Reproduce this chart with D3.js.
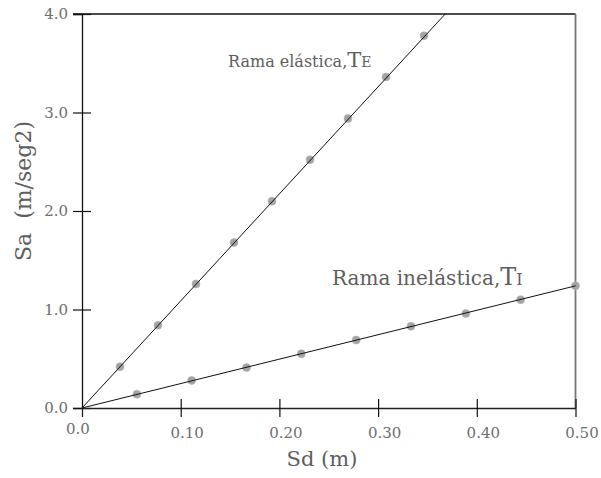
<!DOCTYPE html>
<html>
<head>
<meta charset="utf-8">
<script src="https://cdn.jsdelivr.net/npm/d3@7"></script>
<style>
  html, body { margin: 0; padding: 0; background: #fff; }
  svg { display: block; }
</style>
</head>
<body>
<svg id="chart" width="601" height="478"></svg>
<script>
// ---- data ----
const elasticSd = [0.0385, 0.077, 0.1155, 0.154, 0.1925, 0.231, 0.2695, 0.308, 0.3465];
const elasticSa = [0.42, 0.84, 1.26, 1.68, 2.10, 2.52, 2.94, 3.36, 3.78];
const inelasticSd = [0.0556, 0.1111, 0.1667, 0.2222, 0.2778, 0.3333, 0.3889, 0.4444, 0.5];
const inelasticSa = [0.14, 0.28, 0.41, 0.55, 0.69, 0.83, 0.96, 1.10, 1.24];
const elasticLineSd = [0, 0.368];
const elasticLineSa = [0, 4.0];
const inelasticLineSd = [0, 0.5];
const inelasticLineSa = [0, 1.24];
const xTicks = [0.1, 0.2, 0.3, 0.4, 0.5];
const xTickLabels = ["0.10", "0.20", "0.30", "0.40", "0.50"];
const yTicks = [0, 1, 2, 3, 4];
const yTickLabels = ["0.0", "1.0", "2.0", "3.0", "4.0"];

(function () {
const FONT = "'DejaVu Serif', 'Liberation Serif', serif";
const svg = d3.select("#chart").attr("font-family", FONT);
const mL = 82, mR = 575.5, mT = 14, mB = 408;
const x = d3.scaleLinear().domain([0, 0.5]).range([mL, mR]);
const y = d3.scaleLinear().domain([0, 4]).range([mB, mT]);

// frame: top & right
svg.append("line").attr("x1", mL - 9).attr("x2", mR).attr("y1", y(4)).attr("y2", y(4))
  .attr("stroke", "#111").attr("stroke-width", 1.3);
svg.append("line").attr("x1", mR).attr("x2", mR).attr("y1", mT).attr("y2", mB)
  .attr("stroke", "#777").attr("stroke-width", 1.8);

// y axis
const yAxis = svg.append("g").attr("transform", `translate(${mL},0)`)
  .call(d3.axisLeft(y).tickValues(yTicks).tickSize(9).tickFormat((d, i) => yTickLabels[i]));
yAxis.attr("font-family", FONT).attr("font-size", null);
yAxis.select(".domain").attr("stroke", "#111").attr("stroke-width", 1.3);
yAxis.selectAll(".tick line").attr("x1", 9).attr("x2", -9).attr("stroke", "#111").attr("stroke-width", 1.2);
yAxis.selectAll(".tick text").attr("x", -14).attr("font-size", 15).attr("fill", "#6e6e6e")
  .attr("font-family", FONT);

// x axis
const xAxis = svg.append("g").attr("transform", `translate(0,${mB})`)
  .call(d3.axisBottom(x).tickValues(xTicks).tickSize(9).tickFormat((d, i) => xTickLabels[i]));
xAxis.attr("font-family", FONT).attr("font-size", null);
xAxis.select(".domain").attr("stroke", "#222").attr("stroke-width", 1.3);
xAxis.selectAll(".tick line").attr("y1", -9).attr("y2", d => d < 0.5 ? 9 : 0)
  .attr("stroke", "#111").attr("stroke-width", 1.2);
xAxis.selectAll(".tick text").attr("y", 19).attr("dx", 6).attr("font-size", 15).attr("fill", "#6e6e6e")
  .attr("font-family", FONT);
// origin label for x
svg.append("text").attr("x", x(0) - 4).attr("y", mB + 26).attr("text-anchor", "middle")
  .attr("font-size", 15).attr("fill", "#6e6e6e").attr("font-family", FONT).text("0.0");

// points
const pts = svg.append("g");
pts.selectAll("circle.e").data(elasticSd).join("circle").attr("class", "e")
  .attr("cx", d => x(d)).attr("cy", (d, i) => y(elasticSa[i])).attr("r", 4)
  .attr("fill", "#a3a3a3").attr("stroke", "#b5b5b5").attr("stroke-width", 0.6);
pts.selectAll("circle.i").data(inelasticSd).join("circle").attr("class", "i")
  .attr("cx", d => x(d)).attr("cy", (d, i) => y(inelasticSa[i])).attr("r", 4)
  .attr("fill", "#a3a3a3").attr("stroke", "#b5b5b5").attr("stroke-width", 0.6);

// lines
const line = d3.line().x(d => x(d[0])).y(d => y(d[1]));
svg.append("path").datum(elasticLineSd.map((d, i) => [d, elasticLineSa[i]]))
  .attr("d", line).attr("fill", "none").attr("stroke", "#111").attr("stroke-width", 1);
svg.append("path").datum(inelasticLineSd.map((d, i) => [d, inelasticLineSa[i]]))
  .attr("d", line).attr("fill", "none").attr("stroke", "#111").attr("stroke-width", 1);

// annotations
const t1 = svg.append("text").attr("x", 228).attr("y", 67).attr("font-size", 16)
  .attr("fill", "#5e5e5e").attr("font-family", FONT);
t1.append("tspan").text("Rama elástica,");
t1.append("tspan").attr("font-size", 21).text("T");
t1.append("tspan").attr("font-size", 14).text("E");

const t2 = svg.append("text").attr("x", 332).attr("y", 285).attr("font-size", 20)
  .attr("fill", "#5e5e5e").attr("font-family", FONT);
t2.append("tspan").text("Rama inelástica,");
t2.append("tspan").attr("font-size", 24).text("T");
t2.append("tspan").attr("font-size", 16).text("I");

// axis titles
svg.append("text").attr("x", 322).attr("y", 466).attr("text-anchor", "middle")
  .attr("fill", "#5e5e5e").attr("font-family", FONT).attr("font-size", 21).text("Sd (m)");
svg.append("text").attr("transform", "translate(31,191) rotate(-90)").attr("text-anchor", "middle")
  .attr("fill", "#5e5e5e").attr("font-family", FONT).attr("font-size", 22).text("Sa\u00a0\u00a0(m/seg2)");
})();
</script>
</body>
</html>
